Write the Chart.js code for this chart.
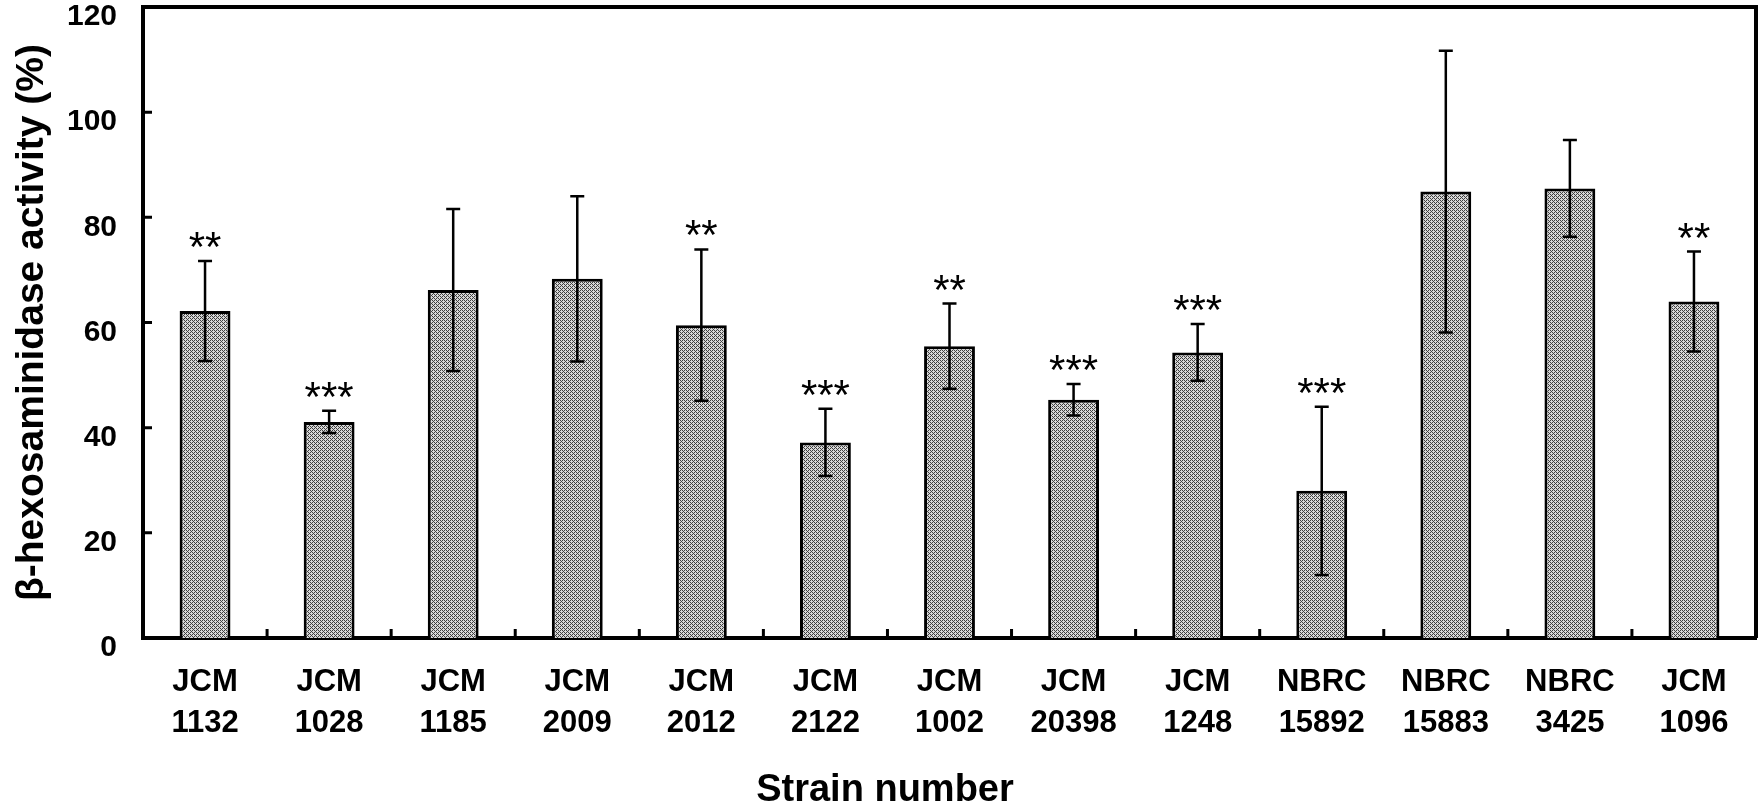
<!DOCTYPE html>
<html>
<head>
<meta charset="utf-8">
<script src="https://cdn.jsdelivr.net/npm/chart.js@4.4.1/dist/chart.umd.min.js"></script>
<style>
  html, body { margin: 0; padding: 0; background: #fff; }
  #wrap { width: 1758px; height: 811px; }
</style>
</head>
<body>
<div id="wrap"><canvas id="chart" width="1758" height="811"></canvas></div>
<script>
const strains = [
  ['JCM', '1132'], ['JCM', '1028'], ['JCM', '1185'], ['JCM', '2009'], ['JCM', '2012'],
  ['JCM', '2122'], ['JCM', '1002'], ['JCM', '20398'], ['JCM', '1248'], ['NBRC', '15892'],
  ['NBRC', '15883'], ['NBRC', '3425'], ['JCM', '1096']
];
const activity = [62.2, 41.1, 66.2, 68.3, 59.5, 37.2, 55.5, 45.3, 54.3, 28.0, 84.9, 85.5, 64.0];
const sdev = [9.5, 2.1, 15.4, 15.7, 14.4, 6.4, 8.1, 3.0, 5.4, 16.0, 26.8, 9.2, 9.5];
const signif = ['**', '***', '', '', '**', '***', '**', '***', '***', '***', '', '', '**'];
const yTicks = [0, 20, 40, 60, 80, 100, 120];

// dithered grey fill like the original
function makePattern() {
  const c = document.createElement('canvas');
  c.width = 4; c.height = 4;
  const g = c.getContext('2d');
  const rows = ['1010', '0100', '1010', '0001'];
  rows.forEach((r, y) => {
    for (let x = 0; x < 4; x++) {
      g.fillStyle = r[x] === '1' ? '#404040' : '#d8d8d8';
      g.fillRect(x, y, 1, 1);
    }
  });
  return g.createPattern(c, 'repeat');
}

const extras = {
  id: 'extras',
  afterDatasetsDraw(chart) {
    const ctx = chart.ctx;
    const ys = chart.scales.y;
    const xs = chart.scales.x;
    const area = chart.chartArea;
    const meta = chart.getDatasetMeta(0);
    ctx.save();
    // error bars
    ctx.strokeStyle = '#000';
    ctx.lineWidth = 2.5;
    meta.data.forEach((bar, i) => {
      const x = bar.x;
      const top = ys.getPixelForValue(activity[i] + sdev[i]);
      const bot = ys.getPixelForValue(activity[i] - sdev[i]);
      ctx.beginPath();
      ctx.moveTo(x, top); ctx.lineTo(x, bot);
      ctx.moveTo(x - 7, top); ctx.lineTo(x + 7, top);
      ctx.moveTo(x - 7, bot); ctx.lineTo(x + 7, bot);
      ctx.stroke();
      if (signif[i]) {
        ctx.fillStyle = '#000';
        ctx.font = '42px "Liberation Sans", Arial, sans-serif';
        ctx.textAlign = 'center';
        ctx.textBaseline = 'alphabetic';
        const m = ctx.measureText(signif[i]);
        const mid = (m.actualBoundingBoxAscent - m.actualBoundingBoxDescent) / 2;
        ctx.fillText(signif[i], x, top - 21 + mid);
      }
    });
    // box top/right
    ctx.lineWidth = 4;
    ctx.beginPath();
    ctx.moveTo(area.left, area.top); ctx.lineTo(area.right, area.top);
    ctx.lineTo(area.right, area.bottom);
    ctx.stroke();
    // inward ticks
    ctx.lineWidth = 3;
    ctx.beginPath();
    yTicks.forEach(v => {
      const y = ys.getPixelForValue(v);
      ctx.moveTo(area.left, y); ctx.lineTo(area.left + 9, y);
    });
    for (let i = 1; i < strains.length; i++) {
      const x = (xs.getPixelForValue(i - 1) + xs.getPixelForValue(i)) / 2;
      ctx.moveTo(x, area.bottom); ctx.lineTo(x, area.bottom - 9);
    }
    ctx.stroke();
    // x title
    ctx.fillStyle = '#000';
    ctx.font = 'bold 38px "Liberation Sans", Arial, sans-serif';
    ctx.textAlign = 'center';
    ctx.textBaseline = 'middle';
    ctx.fillText('Strain number', area.left + (area.right - area.left) * 0.46, 791);
    ctx.restore();
  }
};

new Chart(document.getElementById('chart').getContext('2d'), {
  type: 'bar',
  data: {
    labels: strains,
    datasets: [{
      data: activity,
      backgroundColor: makePattern(),
      borderColor: '#000',
      borderWidth: 3,
      barPercentage: 0.41,
      categoryPercentage: 1.0
    }]
  },
  options: {
    responsive: false,
    animation: false,
    devicePixelRatio: 1,
    layout: { padding: { top: 7, right: 2, left: 0, bottom: 0 } },
    plugins: { legend: { display: false }, tooltip: { enabled: false } },
    scales: {
      x: {
        grid: { display: false, drawTicks: false },
        border: { display: true, color: '#000', width: 4 },
        ticks: {
          color: '#000', padding: 24, maxRotation: 0, autoSkip: false,
          font: { family: '"Liberation Sans", Arial, sans-serif', size: 31, weight: 'bold', lineHeight: 1.32 }
        },
        afterFit: s => { s.height = 173; s.paddingLeft = 0; s.paddingRight = 0; }
      },
      y: {
        min: 0, max: 120,
        afterBuildTicks: s => { s.ticks = yTicks.map(v => ({ value: v })); },
        grid: { display: false, drawTicks: false },
        border: { display: true, color: '#000', width: 4 },
        ticks: {
          color: '#000', padding: 26, labelOffset: 10,
          font: { family: '"Liberation Sans", Arial, sans-serif', size: 30, weight: 'bold' }
        },
        title: {
          display: true,
          text: 'β-hexosaminidase activity (%)',
          color: '#000',
          padding: { top: 9, bottom: 0 },
          font: { family: '"Liberation Sans", Arial, sans-serif', size: 39, weight: 'bold' }
        },
        afterFit: s => { s.width = 143; s.paddingTop = 0; s.paddingBottom = 0; }
      }
    }
  },
  plugins: [extras]
});
</script>
</body>
</html>
